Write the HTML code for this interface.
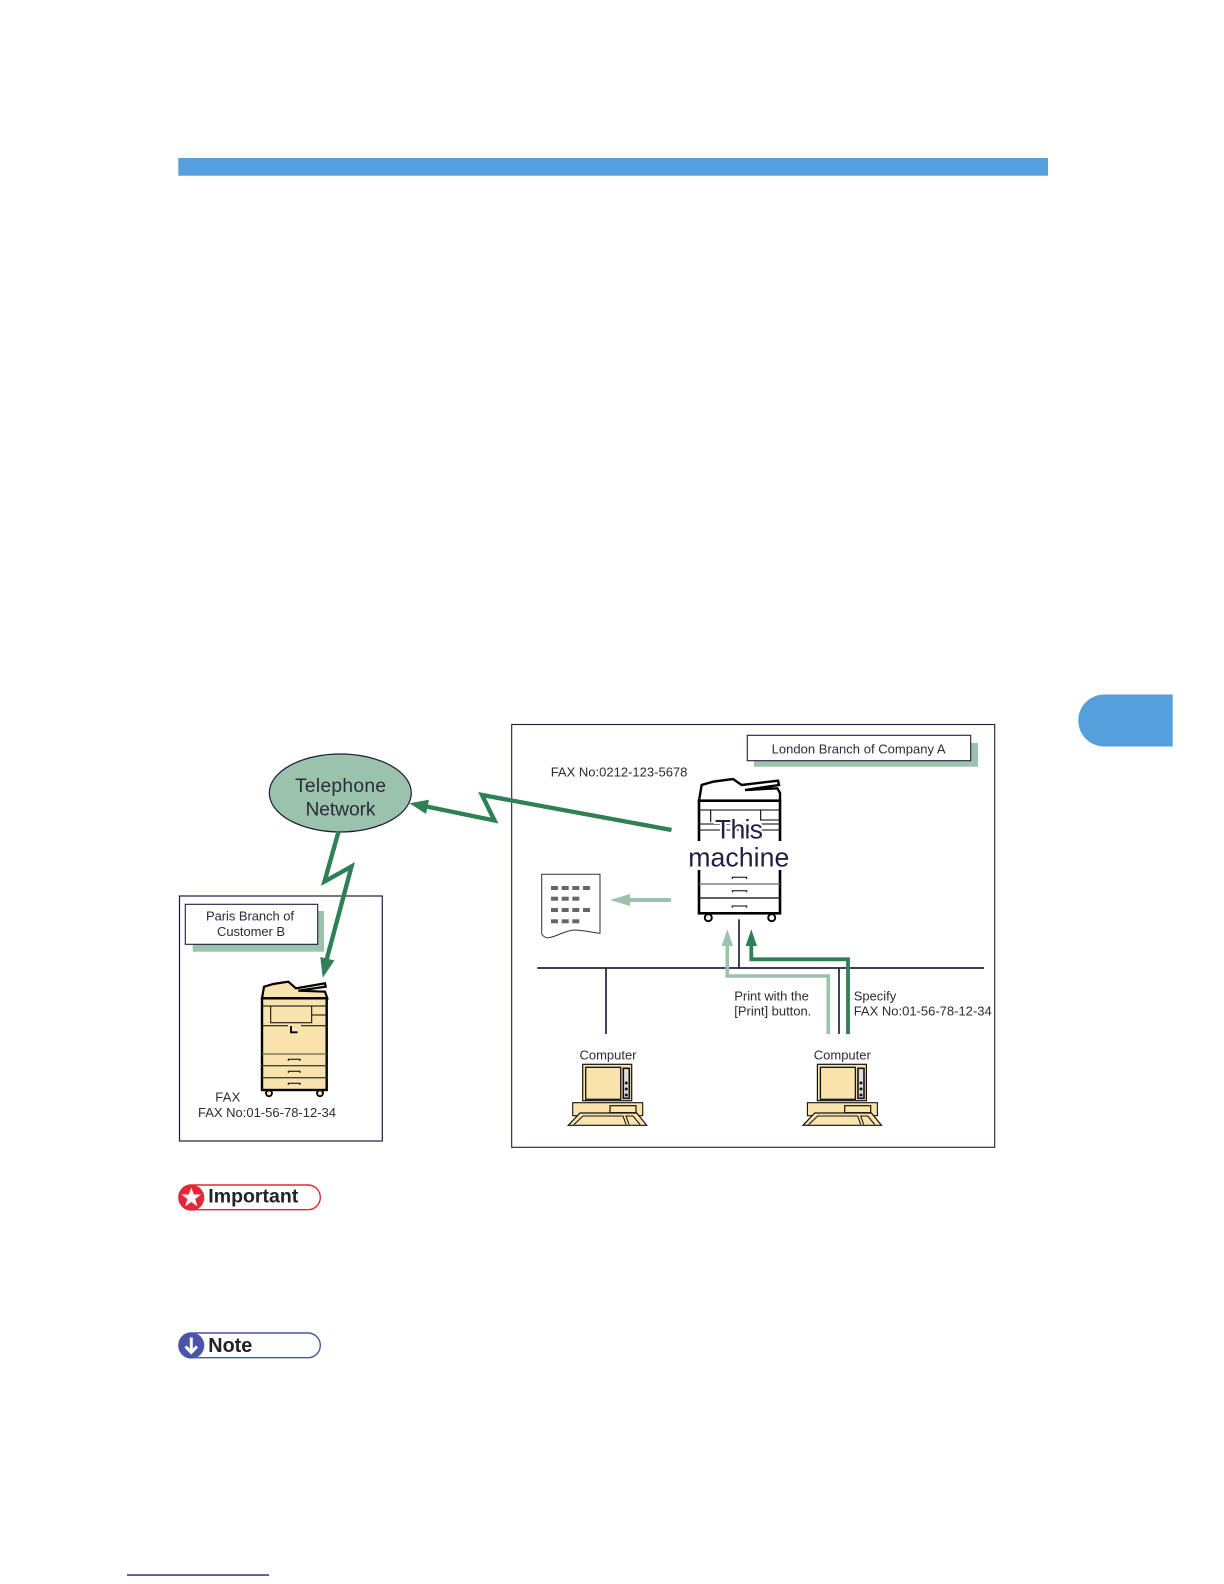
<!DOCTYPE html>
<html>
<head>
<meta charset="utf-8">
<title>Fax diagram</title>
<style>
html,body{margin:0;padding:0;background:#fff;}
svg{display:block;}
text{font-family:"Liberation Sans",sans-serif;fill:#2b2b3c;}
</style>
</head>
<body>
<svg width="1224" height="1584" viewBox="0 0 1224 1584" xmlns="http://www.w3.org/2000/svg">
<rect x="0" y="0" width="1224" height="1584" fill="#fff"/>
<rect x="178.3" y="158" width="869.7" height="17.7" fill="#559fdc"/>
<path d="M1172.7 694.5H1104.3a26 26 0 0 0 0 52H1172.7Z" fill="#559fdc"/>
<rect x="127" y="1574.4" width="142" height="1.3" fill="#10108a"/>

<!-- London box -->
<rect x="511.7" y="724.5" width="483" height="422.8" fill="#fff" stroke="#1f1c3f" stroke-width="1.1"/>
<rect x="754" y="743" width="224" height="23.7" fill="#9bc2ab"/>
<rect x="747.3" y="735.3" width="223.4" height="25.4" fill="#fff" stroke="#1f1c3f" stroke-width="1.1"/>
<text x="858.6" y="753.4" font-size="13" text-anchor="middle" textLength="174">London Branch of Company A</text>
<text x="550.7" y="776.7" font-size="13" textLength="136.7">FAX No:0212-123-5678</text>

<!-- Network -->
<g stroke="#221f45" stroke-width="1.7" fill="none">
<path d="M537.3 968H984"/>
<path d="M606 968V1034"/>
<path d="M739 919.3V968"/>
<path d="M839 968V1034"/>
</g>
<path d="M828.3 1034V976H727.3V944" fill="none" stroke="#9bc2ab" stroke-width="3.6"/>
<path d="M727.3 929.3L733 946H721.6Z" fill="#9bc2ab"/>
<path d="M848 1034V959.3H751.3V944" fill="none" stroke="#2f8055" stroke-width="3.8"/>
<path d="M751.3 929.3L757 946H745.6Z" fill="#2f8055"/>
<text x="734.3" y="1000.3" font-size="13" textLength="74.5">Print with the</text>
<text x="734.3" y="1015.7" font-size="13" textLength="77">[Print] button.</text>
<text x="853.7" y="1000.3" font-size="13" textLength="42.5">Specify</text>
<text x="853.7" y="1015.7" font-size="13" textLength="138">FAX No:01-56-78-12-34</text>

<!-- This machine -->
<g fill="none" stroke="#000">
<path d="M699 800.7L701.7 785L713 781.7L733 779L741.7 785L778 780.7L779 785L745 790L777.3 788.3L780 793L780 800.7Z" fill="#fff" stroke-width="2.4"/>
<rect x="699" y="800.7" width="81" height="112.6" fill="#fff" stroke-width="2.6"/>
<path d="M699 810H780M710.7 810V822M760.7 810V820M699 830H780M699 824H780M760 820H780" stroke-width="1.1"/>
<path d="M732.3 879V877.3H746.7V879M732.3 892.4V890.7H746.7V892.4M732.3 907.7V906H746.7V907.7" stroke-width="1"/>
<path d="M699 884H780" stroke="#666" stroke-width="1.3"/>
<path d="M699 898H780" stroke-width="1.3"/>
<circle cx="708.3" cy="917.7" r="3.5" fill="#fff" stroke-width="1.9"/>
<circle cx="771.7" cy="917.7" r="3.5" fill="#fff" stroke-width="1.9"/>
</g>
<rect x="687" y="841" width="104" height="29" fill="#fff"/>
<text x="739" y="838.3" font-size="26.7" text-anchor="middle" style="fill:#221f45;stroke:#fff;stroke-width:4;paint-order:stroke" textLength="48">This</text>
<text x="738.8" y="866.7" font-size="26.7" text-anchor="middle" style="fill:#221f45;stroke:#fff;stroke-width:3;paint-order:stroke" textLength="101">machine</text>

<!-- Paper -->
<path d="M541.7 874.3H600V933.3C590 932 582 930 574 930C563 931 555 937.7 548 937.7C545 937.7 543 936 541.7 934Z" fill="#fff" stroke="#333" stroke-width="1"/>
<g fill="#666">
<rect x="551" y="886" width="7" height="4"/><rect x="561.7" y="886" width="7" height="4"/><rect x="572.3" y="886" width="7" height="4"/><rect x="583" y="886" width="7" height="4"/>
<rect x="551" y="896.7" width="7" height="4"/><rect x="561.7" y="896.7" width="7" height="4"/><rect x="572.3" y="896.7" width="7" height="4"/>
<rect x="551" y="908" width="7" height="4"/><rect x="561.7" y="908" width="7" height="4"/><rect x="572.3" y="908" width="7" height="4"/><rect x="583" y="908" width="7" height="4"/>
<rect x="551" y="919.3" width="7" height="4"/><rect x="561.7" y="919.3" width="7" height="4"/><rect x="572.3" y="919.3" width="7" height="4"/>
</g>
<path d="M671 900H628" stroke="#9bc2ab" stroke-width="4" fill="none"/>
<path d="M610 900L630 894V906Z" fill="#9bc2ab"/>

<!-- Computers -->
<defs>
<g id="pc">
<rect x="582.7" y="1064.3" width="49" height="36.4" fill="#fbe3ae" stroke="#111" stroke-width="1.2"/>
<rect x="585.7" y="1067.3" width="35" height="32" fill="#fbe3ae" stroke="#111" stroke-width="1.3"/>
<rect x="623.3" y="1068.3" width="6" height="30" fill="#ddd" stroke="#111" stroke-width="1.6"/>
<circle cx="626.3" cy="1083" r="1.5" fill="#111"/><circle cx="626.3" cy="1089" r="1.5" fill="#111"/><circle cx="626.3" cy="1095" r="1.5" fill="#111"/>
<rect x="572.7" y="1102.7" width="70" height="13" fill="#fbe3ae" stroke="#111" stroke-width="1.1"/>
<rect x="610" y="1105.7" width="26" height="7" fill="#fbe3ae" stroke="#111" stroke-width="1.2"/>
<path d="M568.3 1125.3L580 1113H636.7L646.7 1125.3Z" fill="#fbe3ae" stroke="#111" stroke-width="1.2"/>
<path d="M574 1124.5L583 1116H623L626 1124.5M629 1124.5L626 1116H633L640 1124.5" fill="none" stroke="#111" stroke-width="1.1"/>
</g>
</defs>
<use href="#pc"/>
<use href="#pc" x="234.7"/>
<text x="608" y="1059.3" font-size="13" text-anchor="middle" textLength="57">Computer</text>
<text x="842.3" y="1059.3" font-size="13" text-anchor="middle" textLength="57">Computer</text>

<!-- Paris box -->
<rect x="179.5" y="896" width="202.8" height="245" fill="#fff" stroke="#1f1c3f" stroke-width="1.2"/>
<rect x="192.7" y="911" width="131.3" height="40.7" fill="#9bc2ab"/>
<rect x="185.3" y="904.3" width="132.4" height="40" fill="#fff" stroke="#1f1c3f" stroke-width="1.1"/>
<text x="250" y="920.7" font-size="13" text-anchor="middle" textLength="88">Paris Branch of</text>
<text x="251" y="936" font-size="13" text-anchor="middle" textLength="68">Customer B</text>
<g fill="none" stroke="#000">
<path d="M262 998.3L264 986.7L273.3 984L288.3 981.7L296 988.3L325 983.3L325.7 986.7L298.3 990.7L325 991.7L327.3 998.3Z" fill="#fbe3ae" stroke-width="2.2"/>
<rect x="262" y="998.3" width="64.7" height="91.7" fill="#fbe3ae" stroke-width="2.4"/>
<path d="M262 1006H326.7M270.7 1006V1022.7H311.7V1006M311.7 1015H326.7M262 1025.7H288M301 1025.7H326.7" stroke-width="1"/>
<path d="M291 1026V1032.3H297.5" stroke-width="1.8"/>
<path d="M262 1054H326.7" stroke="#665" stroke-width="1.3"/>
<path d="M262 1065.7H326.7M262 1077.7H326.7" stroke="#443" stroke-width="1.3"/>
<path d="M288.3 1061V1059.3H300V1061M288.3 1073V1071.3H300V1073M288.3 1085V1083.3H300V1085" stroke-width="1"/>
<circle cx="269" cy="1093.3" r="3" fill="#fbe3ae" stroke-width="1.8"/>
<circle cx="320" cy="1093.3" r="3" fill="#fbe3ae" stroke-width="1.8"/>
</g>
<text x="215.3" y="1101.7" font-size="13" textLength="25">FAX</text>
<text x="198" y="1117" font-size="13" textLength="138">FAX No:01-56-78-12-34</text>

<!-- Telephone network -->
<ellipse cx="340.3" cy="793" rx="71" ry="39" fill="#9bc2ab" stroke="#1f1c3f" stroke-width="1.2"/>
<text x="340.5" y="791.9" font-size="19.2" text-anchor="middle" textLength="91">Telephone</text>
<text x="340.5" y="815.7" font-size="19.2" text-anchor="middle" textLength="70">Network</text>

<!-- Lightning arrows -->
<path d="M671.5 830L482 795L494.5 820.5L424 806" fill="none" stroke="#2f8055" stroke-width="4.4" stroke-miterlimit="10"/>
<path d="M409.5 803.3L429 799.8L426 814Z" fill="#2f8055"/>
<path d="M338.5 831.7L324.5 881.5L351.5 866.5L326 962" fill="none" stroke="#2f8055" stroke-width="4.4" stroke-miterlimit="10"/>
<path d="M322.7 977.8L320.3 957L334.5 960.5Z" fill="#2f8055"/>

<!-- Badges -->
<rect x="178.9" y="1185" width="141.4" height="24.7" rx="12.3" fill="#fff" stroke="#e5263a" stroke-width="1.4"/>
<circle cx="191.3" cy="1197.7" r="13" fill="#e5263a"/>
<path d="M191.3 1187.5L193.8 1194.5H201L195.2 1199L197.4 1206.3L191.3 1202L185.2 1206.3L187.4 1199L181.6 1194.5H188.8Z" fill="#fff"/>
<text x="208.3" y="1202.6" font-size="19" font-weight="bold" textLength="90" lengthAdjust="spacingAndGlyphs" style="fill:#222">Important</text>
<rect x="178.9" y="1333" width="141.4" height="24.7" rx="12.3" fill="#fff" stroke="#4a54a8" stroke-width="1.4"/>
<circle cx="191.3" cy="1345.5" r="13" fill="#4a54a8"/>
<path d="M191.3 1337.5V1352M185.5 1346.5L191.3 1352.5L197 1346.5" fill="none" stroke="#fff" stroke-width="3"/>
<text x="208.3" y="1352" font-size="20" font-weight="bold" textLength="44" lengthAdjust="spacingAndGlyphs" style="fill:#222">Note</text>
</svg>
</body>
</html>
